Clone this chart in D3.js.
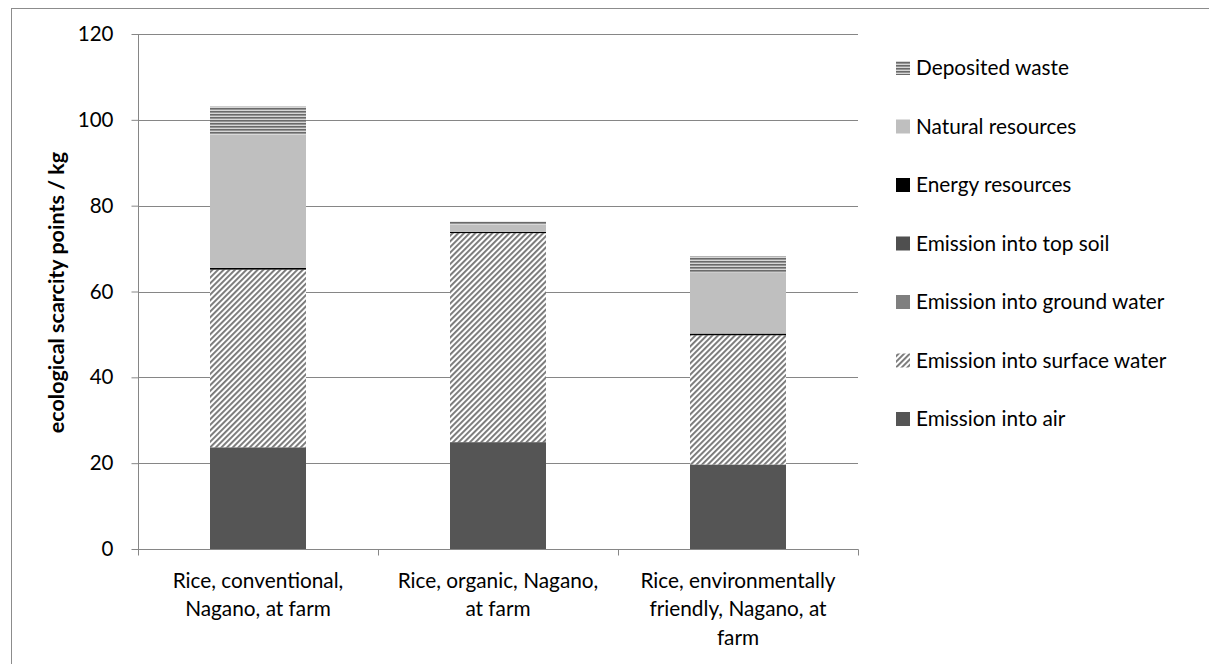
<!DOCTYPE html>
<html>
<head>
<meta charset="utf-8">
<script src="https://cdn.jsdelivr.net/npm/d3@7/dist/d3.min.js"></script>
<style>
  html, body { margin: 0; padding: 0; background: #fff; }
  svg { display: block; }
  text { font-family: Lato, "Open Sans", sans-serif; fill: #000; }
</style>
</head>
<body>
<svg id="chart" width="1209" height="664"></svg>
<script>
// Products compared
const categories = [
  ["Rice, conventional,", "Nagano, at farm"],
  ["Rice, organic, Nagano,", "at farm"],
  ["Rice, environmentally", "friendly, Nagano, at", "farm"]
];

// Impact categories, stacked bottom to top
const seriesNames = [
  "Emission into air",
  "Emission into surface water",
  "Emission into ground water",
  "Emission into top soil",
  "Energy resources",
  "Natural resources",
  "Deposited waste"
];

// Ecological scarcity points per kg, one value per product
const emissionAir      = [23.7, 24.9, 19.7];
const emissionSurface  = [41.4, 48.7, 30.1];
const emissionGround   = [0.0, 0.0, 0.0];
const emissionTopSoil  = [0.0, 0.0, 0.0];
const energyResources  = [0.4, 0.3, 0.4];
const naturalResources = [31.1, 1.6, 14.3];
const depositedWaste   = [6.5, 0.8, 3.7];

const yTicks = [0, 20, 40, 60, 80, 100, 120];

const seriesValues = [emissionAir, emissionSurface, emissionGround, emissionTopSoil,
                      energyResources, naturalResources, depositedWaste];

const svg = d3.select("#chart");

// Fill styles
const defs = svg.append("defs");
const hatch = defs.append("pattern")
  .attr("id", "hatch").attr("patternUnits", "userSpaceOnUse")
  .attr("width", 4).attr("height", 4)
  .attr("patternTransform", "rotate(45)");
hatch.append("rect").attr("width", 4).attr("height", 4).attr("fill", "#fff");
hatch.append("rect").attr("x", 0).attr("width", 1.9).attr("height", 4).attr("fill", "#777777");

const stripes = defs.append("pattern")
  .attr("id", "stripes").attr("patternUnits", "userSpaceOnUse")
  .attr("width", 8).attr("height", 3);
stripes.append("rect").attr("width", 8).attr("height", 3).attr("fill", "#d6d6d6");
stripes.append("rect").attr("y", 0).attr("width", 8).attr("height", 1.6).attr("fill", "#6a6a6a");

const fills = ["#555555", "url(#hatch)", "#7f7f7f", "#4f4f4f", "#000000", "#bfbfbf", "url(#stripes)"];

// Outer frame
svg.append("rect")
  .attr("x", 11.5).attr("y", 8.5).attr("width", 1210).attr("height", 700)
  .attr("fill", "none").attr("stroke", "#8c8c8c").attr("stroke-width", 1);

const plot = { left: 138, right: 858, top: 34, bottom: 549 };

const x = d3.scaleBand()
  .domain(d3.range(categories.length))
  .range([plot.left, plot.right])
  .paddingInner(0).paddingOuter(0);

const y = d3.scaleLinear().domain([0, 120]).range([plot.bottom, plot.top]);

// Gridlines
svg.append("g").selectAll("line").data(yTicks.filter(t => t > 0)).join("line")
  .attr("x1", plot.left).attr("x2", plot.right)
  .attr("y1", d => Math.round(y(d)) + 0.5).attr("y2", d => Math.round(y(d)) + 0.5)
  .attr("stroke", "#868686").attr("stroke-width", 1);

// Stacked bars
const table = categories.map((c, i) => {
  const row = { i };
  seriesNames.forEach((s, k) => { row[s] = seriesValues[k][i]; });
  return row;
});
const stack = d3.stack().keys(seriesNames)(table);
const barW = 96;

svg.append("g").selectAll("g").data(stack).join("g")
  .attr("fill", (d, k) => fills[k])
  .selectAll("rect").data(d => d).join("rect")
  .attr("x", d => x(d.data.i) + x.bandwidth() / 2 - barW / 2)
  .attr("width", barW)
  .attr("y", d => y(d[1]))
  .attr("height", d => Math.max(0, y(d[0]) - y(d[1])));

// Y axis
const yAxis = d3.axisLeft(y).tickValues(yTicks).tickSize(7).tickPadding(18);
const yg = svg.append("g").attr("transform", `translate(${plot.left + 0.5},0)`).call(yAxis);
yg.select(".domain").attr("stroke", "#868686").attr("d", `M0,${plot.top}V${plot.bottom}`);
yg.selectAll(".tick line").attr("stroke", "#868686");
yg.selectAll(".tick text").attr("font-size", 20.5).attr("font-family", "Lato, sans-serif").attr("fill", "#000");

// X axis
const xg = svg.append("g").attr("transform", `translate(0,${plot.bottom + 0.5})`);
xg.append("line").attr("x1", plot.left).attr("x2", plot.right + 0.5)
  .attr("stroke", "#868686");
xg.selectAll("line.tk").data(d3.range(categories.length + 1)).join("line")
  .attr("class", "tk")
  .attr("x1", i => Math.round(plot.left + i * x.bandwidth()) + 0.5)
  .attr("x2", i => Math.round(plot.left + i * x.bandwidth()) + 0.5)
  .attr("y1", 0).attr("y2", 6).attr("stroke", "#868686");

xg.selectAll("text.cat").data(categories).join("text")
  .attr("class", "cat")
  .attr("text-anchor", "middle")
  .attr("font-size", 20.8)
  .attr("transform", (d, i) => `translate(${x(i) + x.bandwidth() / 2},38)`)
  .selectAll("tspan").data(d => d).join("tspan")
  .attr("x", 0).attr("dy", (d, j) => j === 0 ? 0 : 28.5)
  .text(d => d);

// Y axis title
svg.append("text")
  .attr("transform", `translate(64,${(plot.top + plot.bottom) / 2 + 1}) rotate(-90)`)
  .attr("text-anchor", "middle")
  .attr("font-size", 21.5).attr("font-weight", "bold")
  .text("ecological scarcity points / kg");

// Legend, top entry is the top of the stack
const legendOrder = seriesNames.map((s, k) => k).reverse();
const lg = svg.append("g").selectAll("g").data(legendOrder).join("g")
  .attr("transform", (k, j) => `translate(896,${68 + j * 58.5})`);
lg.append("rect").attr("x", 0).attr("y", -7).attr("width", 14).attr("height", 14)
  .attr("fill", k => fills[k]);
lg.append("text").attr("x", 20).attr("y", 0).attr("dy", "0.35em")
  .attr("font-size", 20.8)
  .text(k => seriesNames[k]);
</script>
</body>
</html>
